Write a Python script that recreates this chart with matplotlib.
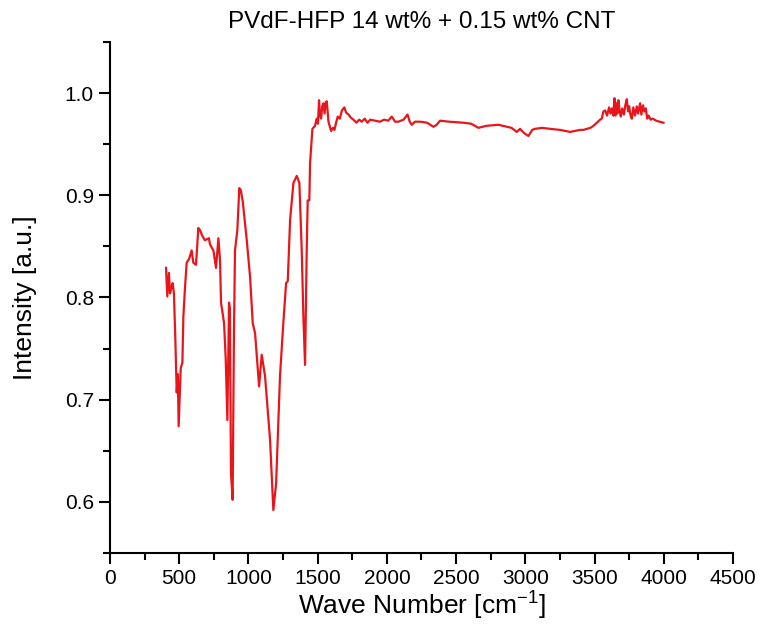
import matplotlib.pyplot as plt
from matplotlib.ticker import MultipleLocator

plt.rcParams['font.family'] = ['Liberation Sans', 'DejaVu Sans']

# spectrum values
wave = [405, 414, 420, 426, 434, 444, 453, 462, 472, 482, 490, 496, 503, 511, 523,
        530, 542, 554, 572, 590, 602, 621, 630, 638, 650, 668, 686, 700, 715, 722,
        747, 766, 783, 795, 802, 824, 836, 848, 854, 860, 866, 874, 886, 895, 903,
        920, 934, 945, 959, 988, 1012, 1031, 1048, 1077, 1096, 1120, 1156, 1180,
        1200, 1228, 1252, 1272, 1284, 1301, 1325, 1349, 1368, 1385, 1397, 1409,
        1421, 1428, 1440, 1445, 1462, 1481, 1493, 1502, 1510, 1517, 1525, 1533,
        1541, 1550, 1558, 1566, 1578, 1597, 1610, 1621, 1635, 1645, 1660, 1675,
        1693, 1705, 1722, 1740, 1758, 1780, 1800, 1818, 1840, 1860, 1880, 1914,
        1950, 1980, 2010, 2035, 2060, 2083, 2120, 2149, 2165, 2180, 2203, 2240,
        2290, 2336, 2360, 2384, 2450, 2553, 2610, 2661, 2720, 2805, 2870, 2900,
        2938, 2962, 2990, 3022, 3050, 3070, 3120, 3180, 3250, 3324, 3396, 3420,
        3470, 3492, 3516, 3540, 3552, 3564, 3577, 3590, 3605, 3615, 3625, 3635,
        3644, 3650, 3658, 3665, 3672, 3680, 3689, 3700, 3712, 3722, 3733, 3742,
        3750, 3760, 3769, 3780, 3792, 3805, 3815, 3822, 3829, 3838, 3850, 3860,
        3870, 3880, 3890, 3905, 3920, 3945, 3970, 3998]
intensity = [0.829, 0.801, 0.812, 0.824, 0.804, 0.810, 0.814, 0.804, 0.760, 0.707,
             0.725, 0.674, 0.700, 0.731, 0.736, 0.781, 0.810, 0.834, 0.838, 0.846,
             0.834, 0.832, 0.850, 0.868, 0.866, 0.860, 0.856, 0.857, 0.858, 0.852,
             0.846, 0.829, 0.858, 0.836, 0.795, 0.775, 0.740, 0.680, 0.740, 0.795,
             0.789, 0.628, 0.602, 0.760, 0.846, 0.866, 0.907, 0.905, 0.894, 0.856,
             0.820, 0.775, 0.765, 0.713, 0.744, 0.723, 0.661, 0.592, 0.618, 0.723,
             0.775, 0.814, 0.816, 0.876, 0.912, 0.919, 0.912, 0.846, 0.781, 0.734,
             0.846, 0.895, 0.895, 0.931, 0.965, 0.968, 0.975, 0.970, 0.993, 0.978,
             0.975, 0.987, 0.990, 0.980, 0.991, 0.992, 0.972, 0.963, 0.966, 0.964,
             0.972, 0.977, 0.975, 0.983, 0.986, 0.981, 0.979, 0.976, 0.974, 0.971,
             0.974, 0.972, 0.975, 0.971, 0.974, 0.973, 0.972, 0.974, 0.973, 0.977,
             0.972, 0.972, 0.974, 0.979, 0.972, 0.969, 0.972, 0.972, 0.971, 0.967,
             0.969, 0.973, 0.972, 0.971, 0.970, 0.966, 0.968, 0.969, 0.967, 0.966,
             0.962, 0.965, 0.961, 0.958, 0.964, 0.965, 0.966, 0.965, 0.964, 0.962,
             0.964, 0.964, 0.966, 0.968, 0.971, 0.974, 0.975, 0.982, 0.983, 0.978,
             0.986, 0.980, 0.985, 0.978, 0.995, 0.978, 0.990, 0.980, 0.993, 0.984,
             0.977, 0.985, 0.979, 0.988, 0.994, 0.982, 0.987, 0.978, 0.975, 0.986,
             0.978, 0.987, 0.980, 0.985, 0.990, 0.979, 0.988, 0.982, 0.985, 0.975,
             0.978, 0.974, 0.975, 0.973, 0.972, 0.971]

fig = plt.figure(figsize=(7.6, 6.41), dpi=100)
ax = fig.add_axes([0.1447, 0.1373, 0.8198, 0.7972])
ax.plot(wave, intensity, color='#e8161b', lw=1.6)

ax.set_xlim(0, 4500)
ax.set_ylim(0.55, 1.05)
ax.xaxis.set_major_locator(MultipleLocator(500))
ax.xaxis.set_minor_locator(MultipleLocator(250))
ax.yaxis.set_major_locator(MultipleLocator(0.1))
ax.yaxis.set_minor_locator(MultipleLocator(0.05))
ax.yaxis.set_major_formatter(plt.FuncFormatter(lambda v, p: f'{v:.1f}'))
ax.tick_params(which='major', direction='out', length=8, width=1.5, labelsize=15)
ax.tick_params(which='minor', direction='out', length=5, width=1.5)
for s in ['top', 'right']:
    ax.spines[s].set_visible(False)
for s in ['left', 'bottom']:
    ax.spines[s].set_linewidth(1.5)

ax.set_xlabel('Wave Number [cm$^{\\mathregular{-1}}$]', fontsize=19, labelpad=0)
ax.set_ylabel('Intensity [a.u.]', fontsize=19, labelpad=20)
ax.set_title('PVdF-HFP 14 wt% + 0.15 wt% CNT', fontsize=17.5, pad=10)

fig.savefig('out.png', dpi=100)
